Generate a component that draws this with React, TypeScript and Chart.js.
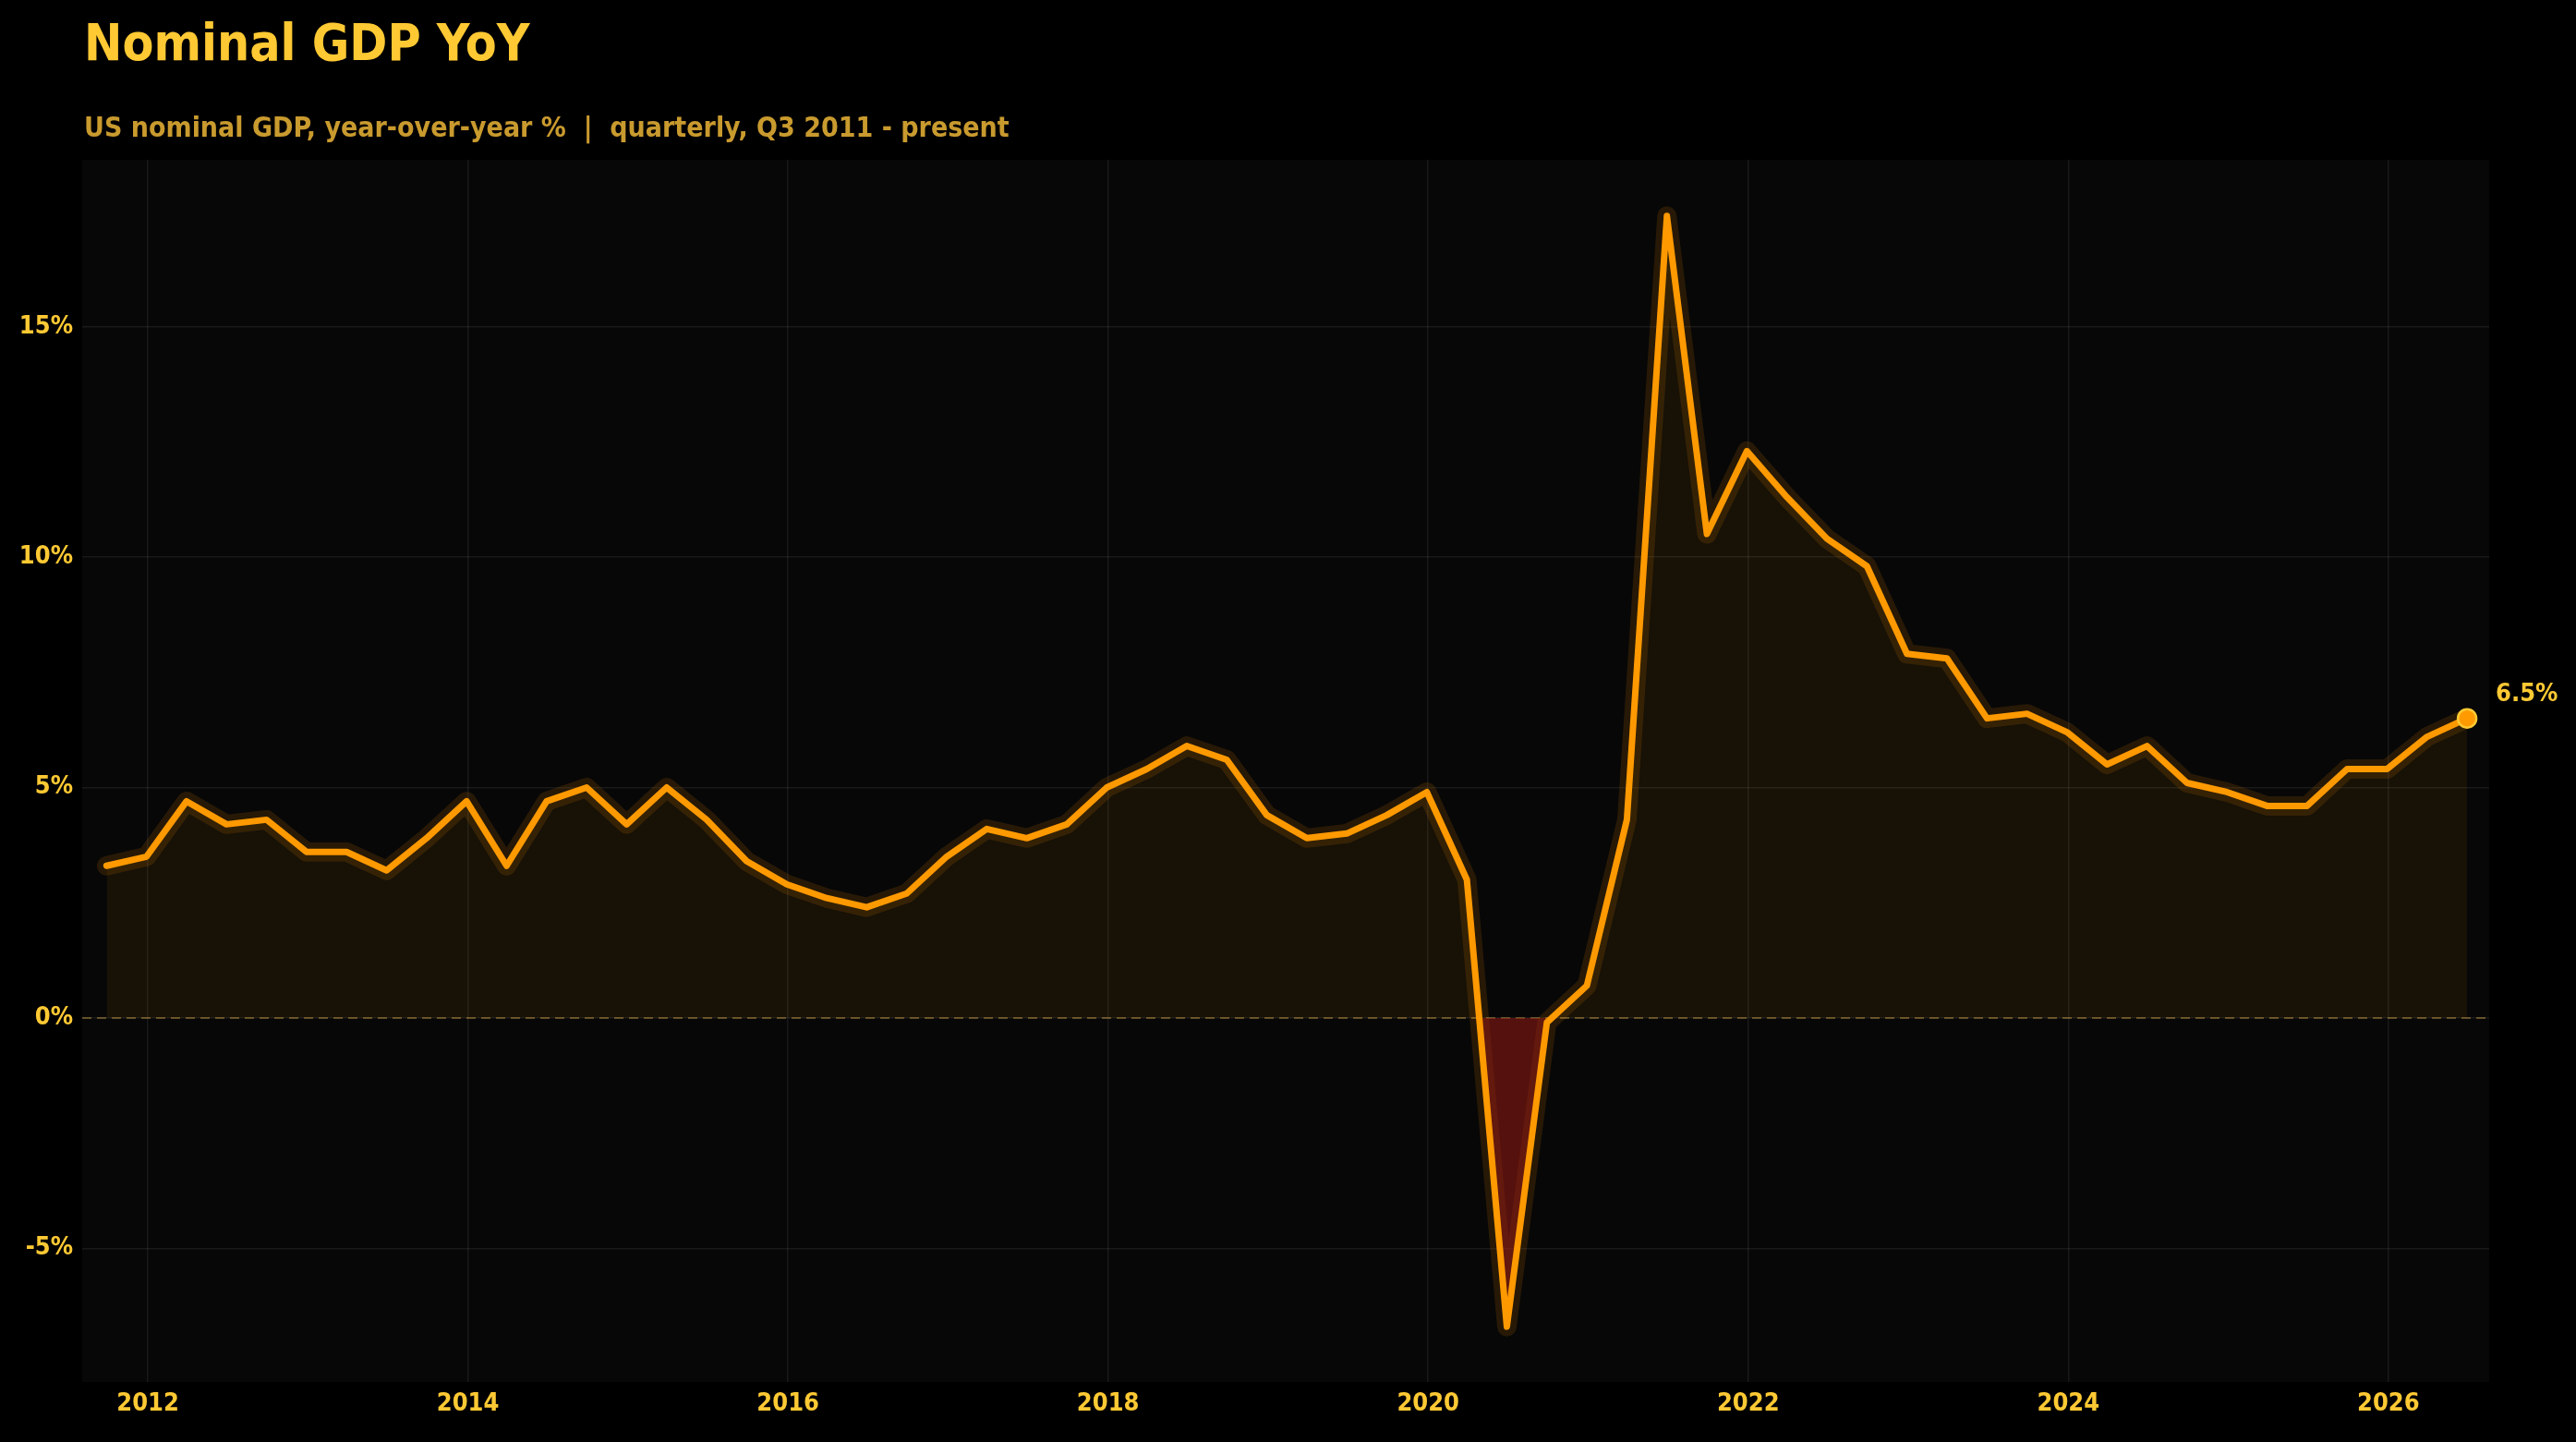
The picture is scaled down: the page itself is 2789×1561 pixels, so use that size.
import React, { useEffect, useRef } from "react";
import { Chart, registerables } from "chart.js";

Chart.register(...registerables);

const TITLE = "Nominal GDP YoY";
const SUBTITLE = "US nominal GDP, year-over-year %  |  quarterly, Q3 2011 - present";

// Quarter categories (Q3 2011 .. Q2 2026)
const QUARTERS: string[] = [
  "2011Q3", "2011Q4",
  "2012Q1", "2012Q2", "2012Q3", "2012Q4",
  "2013Q1", "2013Q2", "2013Q3", "2013Q4",
  "2014Q1", "2014Q2", "2014Q3", "2014Q4",
  "2015Q1", "2015Q2", "2015Q3", "2015Q4",
  "2016Q1", "2016Q2", "2016Q3", "2016Q4",
  "2017Q1", "2017Q2", "2017Q3", "2017Q4",
  "2018Q1", "2018Q2", "2018Q3", "2018Q4",
  "2019Q1", "2019Q2", "2019Q3", "2019Q4",
  "2020Q1", "2020Q2", "2020Q3", "2020Q4",
  "2021Q1", "2021Q2", "2021Q3", "2021Q4",
  "2022Q1", "2022Q2", "2022Q3", "2022Q4",
  "2023Q1", "2023Q2", "2023Q3", "2023Q4",
  "2024Q1", "2024Q2", "2024Q3", "2024Q4",
  "2025Q1", "2025Q2", "2025Q3", "2025Q4",
  "2026Q1", "2026Q2",
];

// Nominal GDP YoY, %
const NGDP_YOY: number[] = [
  3.3, 3.5,
  4.7, 4.2, 4.3, 3.6,
  3.6, 3.2, 3.9, 4.7,
  3.3, 4.7, 5.0, 4.2,
  5.0, 4.3, 3.4, 2.9,
  2.6, 2.4, 2.7, 3.5,
  4.1, 3.9, 4.2, 5.0,
  5.4, 5.9, 5.6, 4.4,
  3.9, 4.0, 4.4, 4.9,
  3.0, -6.7, -0.1, 0.7,
  4.3, 17.4, 10.5, 12.3,
  11.3, 10.4, 9.8, 7.9,
  7.8, 6.5, 6.6, 6.2,
  5.5, 5.9, 5.1, 4.9,
  4.6, 4.6, 5.4, 5.4,
  6.1, 6.5,
];

const X_TICKS: number[] = [2012, 2014, 2016, 2018, 2020, 2022, 2024, 2026];
const Y_TICKS: number[] = [-5, 0, 5, 10, 15];

const FONT = '"DejaVu Sans Condensed", "Liberation Sans Narrow", "DejaVu Sans", sans-serif';
const GOLD = "#FFC933";
const SUB_GOLD = "#C99A2E";
const GRID = "rgba(255,255,255,0.075)";

function quarterToYear(q: string): number {
  const year = parseInt(q.slice(0, 4), 10);
  const qn = parseInt(q.slice(5), 10);
  return year + qn / 4 - 0.008;
}

export default function App() {
  const canvasRef = useRef<HTMLCanvasElement | null>(null);

  useEffect(() => {
    document.body.style.margin = "0";
    document.body.style.background = "#000";
    const canvas = canvasRef.current;
    if (!canvas) return;

    const points = QUARTERS.map((q, i) => ({ x: quarterToYear(q), y: NGDP_YOY[i] }));
    const n = points.length;

    const bgPlugin = {
      id: "bgPlugin",
      beforeDraw(chart: any) {
        const { ctx, chartArea } = chart;
        ctx.save();
        ctx.fillStyle = "#000";
        ctx.fillRect(0, 0, chart.width, chart.height);
        ctx.fillStyle = "#070707";
        ctx.fillRect(chartArea.left, chartArea.top, chartArea.right - chartArea.left, chartArea.bottom - chartArea.top);
        ctx.restore();
      },
      beforeDatasetsDraw(chart: any) {
        const { ctx, chartArea } = chart;
        const y0 = chart.scales.y.getPixelForValue(0);
        ctx.save();
        ctx.strokeStyle = "rgba(200,160,70,0.45)";
        ctx.lineWidth = 2;
        ctx.setLineDash([10, 6]);
        ctx.beginPath();
        ctx.moveTo(chartArea.left, y0);
        ctx.lineTo(chartArea.right, y0);
        ctx.stroke();
        ctx.restore();
      },
      afterDraw(chart: any) {
        const { ctx, chartArea } = chart;
        ctx.save();
        ctx.textAlign = "left";
        ctx.textBaseline = "alphabetic";
        ctx.fillStyle = GOLD;
        ctx.font = `bold 55px ${FONT}`;
        ctx.fillText(TITLE, chartArea.left + 2, 65);
        ctx.fillStyle = SUB_GOLD;
        ctx.font = `bold 30px ${FONT}`;
        ctx.fillText(SUBTITLE, chartArea.left + 2, 148);

        const meta = chart.getDatasetMeta(0);
        const last = meta.data[n - 1];
        if (last) {
          ctx.fillStyle = GOLD;
          ctx.font = `bold 27px ${FONT}`;
          ctx.fillText(`${NGDP_YOY[n - 1].toFixed(1)}%`, last.x + 31, last.y - 19);
        }
        ctx.restore();
      },
    };

    const chart = new Chart(canvas, {
      type: "line",
      data: {
        datasets: [
          {
            label: "Nominal GDP YoY",
            data: points,
            borderColor: "#FF9900",
            borderWidth: 7,
            borderJoinStyle: "round",
            borderCapStyle: "round",
            tension: 0,
            fill: {
              target: { value: 0 },
              above: "rgba(255,165,0,0.065)",
              below: "rgba(150,25,20,0.55)",
            },
            pointRadius: (c: any) => (c.dataIndex === n - 1 ? 10 : 0),
            pointHoverRadius: 0,
            pointBackgroundColor: "#FF9A00",
            pointBorderColor: "#FFC933",
            pointBorderWidth: 2.5,
          } as any,
          {
            label: "glow",
            data: points,
            borderColor: "rgba(255,150,0,0.13)",
            borderWidth: 21,
            borderJoinStyle: "round",
            borderCapStyle: "round",
            tension: 0,
            fill: false,
            pointRadius: 0,
          } as any,
        ],
      },
      options: {
        animation: false,
        responsive: false,
        maintainAspectRatio: false,
        layout: { padding: { top: 173, right: 94, left: 0, bottom: 0 } },
        plugins: {
          legend: { display: false },
          tooltip: { enabled: false },
          title: { display: false },
        },
        scales: {
          x: {
            type: "linear",
            min: 2011.59,
            max: 2026.63,
            border: { display: false },
            grid: { color: GRID, lineWidth: 1.5, drawTicks: false },
            ticks: {
              color: GOLD,
              font: { family: FONT, size: 27, weight: "bold" },
              padding: 8,
              callback: (v: any) => String(v),
            },
            afterBuildTicks: (s: any) => {
              s.ticks = X_TICKS.map((value) => ({ value }));
            },
            afterFit: (s: any) => {
              s.height = 65;
            },
          },
          y: {
            type: "linear",
            min: -7.9,
            max: 18.62,
            border: { display: false },
            grid: { color: GRID, lineWidth: 1.5, drawTicks: false },
            ticks: {
              color: GOLD,
              font: { family: FONT, size: 27, weight: "bold" },
              padding: 10,
              callback: (v: any) => `${v}%`,
            },
            afterBuildTicks: (s: any) => {
              s.ticks = Y_TICKS.map((value) => ({ value }));
            },
            afterFit: (s: any) => {
              s.width = 89;
            },
          },
        },
      } as any,
      plugins: [bgPlugin],
    });

    return () => {
      chart.destroy();
    };
  }, []);

  return (
    <div style={{ width: 2789, height: 1561, background: "#000" }}>
      <canvas ref={canvasRef} width={2789} height={1561} style={{ display: "block", width: 2789, height: 1561 }} />
    </div>
  );
}
